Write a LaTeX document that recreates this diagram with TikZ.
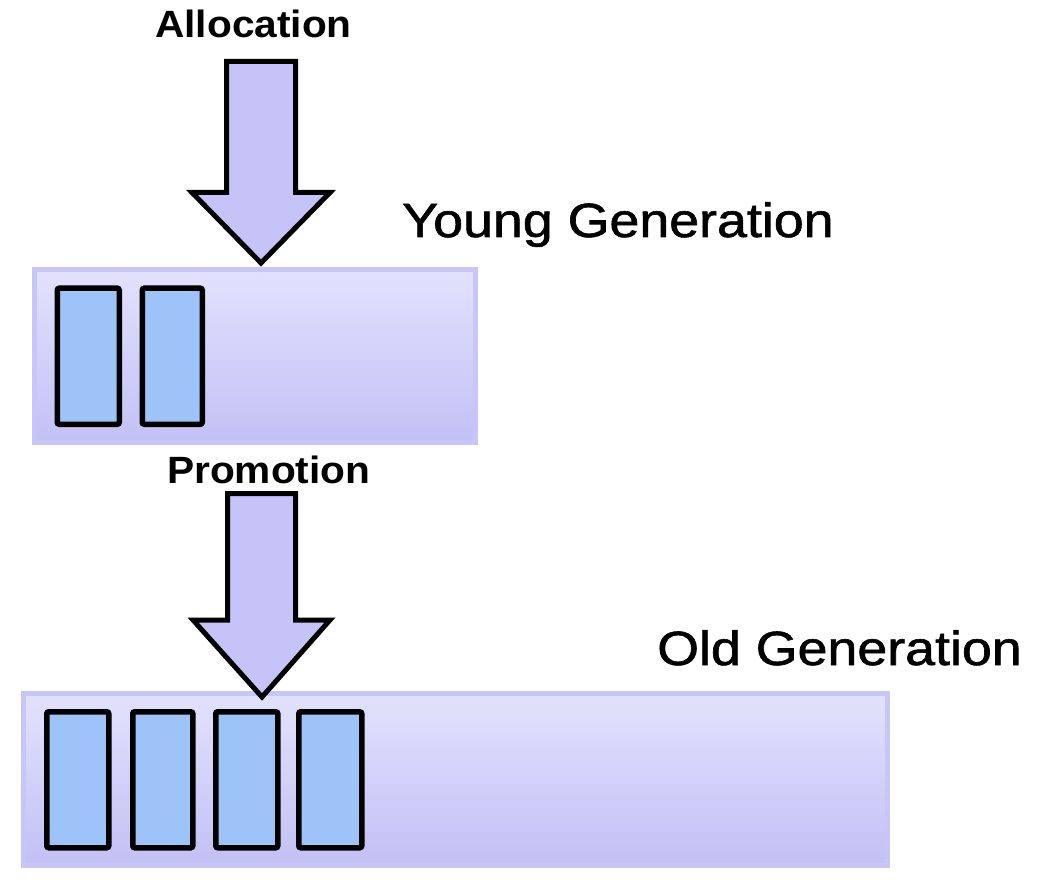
\documentclass[tikz,border=0pt]{standalone}
\usepackage{fontspec}
\setmainfont{Liberation Sans}
\newfontfamily\heavyfont[FakeBold=1.2]{Liberation Sans}
\definecolor{genborder}{HTML}{C8C5F8}
\definecolor{gentop}{HTML}{E2E2FD}
\definecolor{genbot}{HTML}{C3C0F5}
\definecolor{cellfill}{HTML}{9DC3F9}
\definecolor{arrowfill}{HTML}{C5C3F8}
\tikzset{
  genbox/.style={draw=genborder, line width=5pt, top color=gentop, bottom color=genbot, inner sep=0pt, anchor=north west},
  cell/.style={draw=black, fill=cellfill, line width=5.5pt, rounded corners=2pt, inner sep=0pt, anchor=north west},
  blockarrow/.style={draw=black, fill=arrowfill, line width=5pt, line join=miter},
  smalllbl/.style={inner sep=0pt, anchor=base west, font=\fontsize{38}{40}\selectfont\bfseries, xscale=1.07},
  biglbl/.style={inner sep=0pt, anchor=base west, font=\fontsize{48}{50}\selectfont\heavyfont, xscale=1.12}
}
\begin{document}
\begin{tikzpicture}[x=1pt,y=-1pt]
\useasboundingbox (0,0) rectangle (1042,896);
% generation boxes
\node[genbox, minimum width=441pt, minimum height=172pt] (young) at (31.5,267.5) {};
\node[genbox, minimum width=864pt, minimum height=172pt] (old) at (20.5,690.5) {};
% cells
\node[cell, minimum width=62pt, minimum height=136pt] (y1) at (54.5,285.5) {};
\node[cell, minimum width=60pt, minimum height=136pt] (y2) at (139.5,285.5) {};
\node[cell, minimum width=62pt, minimum height=136pt] (o1) at (44,709) {};
\node[cell, minimum width=60pt, minimum height=136pt] (o2) at (130,709) {};
\node[cell, minimum width=62pt, minimum height=136pt] (o3) at (213,709) {};
\node[cell, minimum width=63pt, minimum height=136pt] (o4) at (296,709) {};
% labels
\node[smalllbl] (alloc) at (155,38) {Allocation};
\node[smalllbl] (promo) at (167,483) {Promotion};
\node[biglbl] (younglbl) at (402,237) {Young Generation};
\node[biglbl] (oldlbl) at (657,665) {Old Generation};
% block arrows
\draw[blockarrow] (226.5,61.5) -- (295.5,61.5) -- (295.5,192.5) -- (330,192.5)
  -- (261,263) -- (192,192.5) -- (226.5,192.5) -- cycle;
\draw[blockarrow] (227.5,493.5) -- (295.5,493.5) -- (295.5,620) -- (330,620)
  -- (262,697) -- (193,620) -- (227.5,620) -- cycle;
\end{tikzpicture}
\end{document}
